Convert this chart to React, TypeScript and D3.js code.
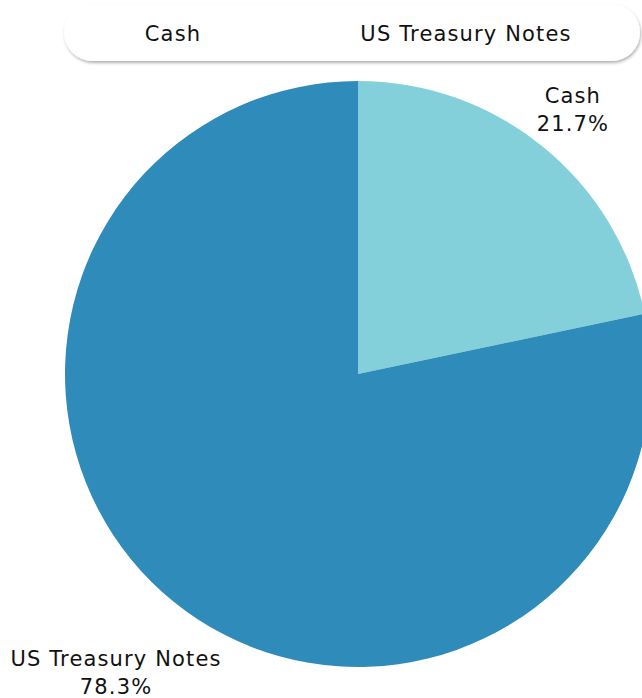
import React from "react";
import * as d3 from "d3";

const categories = ["Cash", "US Treasury Notes"];
const values = [21.7, 78.3];
const colors = ["#84D0DA", "#2F8BB9"];

const W = 642;
const H = 698;

export default function App() {
  const cx = 358;
  const cy = 374;
  const r = 293;
  const pie = d3.pie<number>().sort(null).value((d) => d);
  const arcs = pie(values);
  const arc = d3.arc<d3.PieArcDatum<number>>().innerRadius(0).outerRadius(r);
  const labelR = [r + 48, r + 91];
  const font = "'DejaVu Sans', sans-serif";
  const fs = 21;
  const ls = 1.15;
  const legendX = d3.scalePoint<string>().domain(categories).range([173, 466]);

  return (
    <div style={{ position: "fixed", left: 0, top: 0, width: W, height: H, background: "#fff" }}>
      <svg width={W} height={H} style={{ display: "block" }}>
        <defs>
          <filter id="sh" x="-10%" y="-50%" width="120%" height="200%">
            <feDropShadow dx="1" dy="2" stdDeviation="1.5" floodColor="#000" floodOpacity="0.3" />
          </filter>
        </defs>
        <g transform={`translate(${cx},${cy})`}>
          {arcs.map((a, i) => (
            <path key={i} d={arc(a) || ""} fill={colors[i]} />
          ))}
        </g>
        {arcs.map((a, i) => {
          const mid = (a.startAngle + a.endAngle) / 2;
          const x = cx + Math.sin(mid) * labelR[i];
          const y = cy - Math.cos(mid) * labelR[i];
          return (
            <text key={i} x={x} y={y} textAnchor="middle" fontFamily={font} fontSize={fs} letterSpacing={ls} fill="#111">
              <tspan x={x} dy={-6}>{categories[i]}</tspan>
              <tspan x={x} dy={28}>{`${values[i]}%`}</tspan>
            </text>
          );
        })}
        <rect x={64} y={4} width={576} height={57} rx={28.5} ry={28.5} fill="#fff" filter="url(#sh)" />
        {categories.map((c, i) => (
          <text key={c} x={legendX(c)} y={41} textAnchor="middle" fontFamily={font} fontSize={fs} letterSpacing={ls} fill="#111">
            {c}
          </text>
        ))}
      </svg>
    </div>
  );
}
